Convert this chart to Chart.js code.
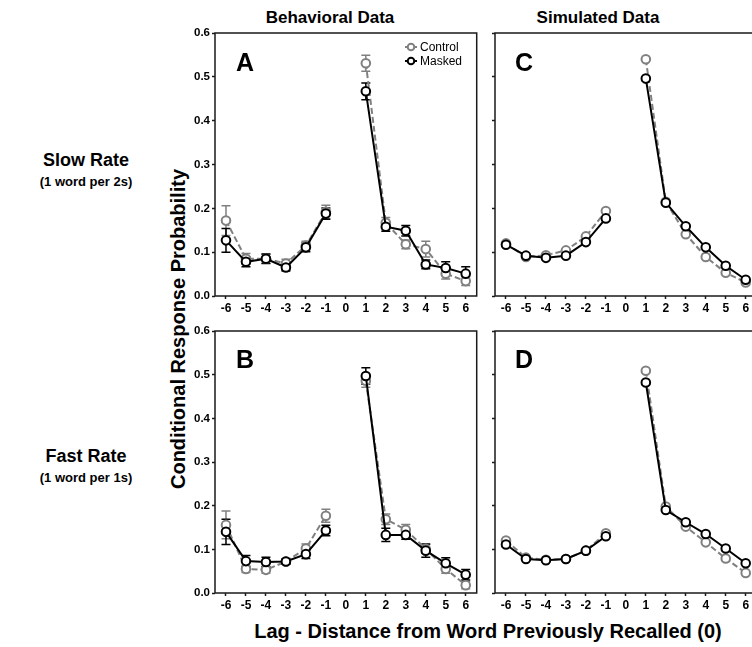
<!DOCTYPE html>
<html>
<head>
<meta charset="utf-8">
<script src="https://cdn.jsdelivr.net/npm/chart.js@4.4.1/dist/chart.umd.min.js"></script>
<style>
  html, body { margin: 0; padding: 0; background: #fff; overflow: hidden; }
  body { width: 752px; height: 647px; position: relative; font-family: "Liberation Sans", Arial, sans-serif; color: #000; }
  .box { position: absolute; }
  .txt { position: absolute; white-space: nowrap; font-weight: bold; transform: translate(-50%, -50%); }
  .letter { position: absolute; font-weight: bold; font-size: 25px; line-height: 1; }
</style>
</head>
<body>
<div class="txt" style="left:330px;top:18px;font-size:17px;">Behavioral Data</div>
<div class="txt" style="left:598px;top:18px;font-size:17px;">Simulated Data</div>
<div class="txt" style="left:86px;top:160px;font-size:18px;">Slow Rate</div>
<div class="txt" style="left:86px;top:181px;font-size:13px;">(1 word per 2s)</div>
<div class="txt" style="left:86px;top:456px;font-size:18px;">Fast Rate</div>
<div class="txt" style="left:86px;top:477px;font-size:13px;">(1 word per 1s)</div>
<div class="txt" style="left:178px;top:329px;font-size:20px;transform:translate(-50%,-50%) rotate(-90deg);">Conditional Response Probability</div>
<div class="txt" style="left:488px;top:631px;font-size:20px;">Lag - Distance from Word Previously Recalled (0)</div>

<div class="box" id="wrapA"><canvas id="chartA"></canvas></div>
<div class="box" id="wrapB"><canvas id="chartB"></canvas></div>
<div class="box" id="wrapC"><canvas id="chartC"></canvas></div>
<div class="box" id="wrapD"><canvas id="chartD"></canvas></div>

<div class="letter" style="left:236px;top:50px;">A</div>
<div class="letter" style="left:236px;top:347px;">B</div>
<div class="letter" style="left:515px;top:50px;">C</div>
<div class="letter" style="left:515px;top:347px;">D</div>

<script>
// lags (x) and y tick labels
const lags = [-6, -5, -4, -3, -2, -1, 0, 1, 2, 3, 4, 5, 6];
const yTicks = [0, 0.1, 0.2, 0.3, 0.4, 0.5, 0.6];

// Behavioral, slow rate (A)
const aControl = [0.172, 0.085, 0.085, 0.074, 0.115, 0.192, null, 0.531, 0.167, 0.118, 0.107, 0.051, 0.034];
const aControlErr = [0.034, 0.012, 0.010, 0.010, 0.010, 0.015, null, 0.018, 0.012, 0.010, 0.018, 0.012, 0.010];
const aMasked = [0.127, 0.078, 0.085, 0.065, 0.111, 0.188, null, 0.467, 0.158, 0.149, 0.072, 0.064, 0.051];
const aMaskedErr = [0.027, 0.011, 0.011, 0.008, 0.010, 0.013, null, 0.019, 0.010, 0.012, 0.010, 0.014, 0.016];

// Behavioral, fast rate (B)
const bControl = [0.156, 0.055, 0.053, 0.072, 0.102, 0.177, null, 0.486, 0.169, 0.145, 0.101, 0.055, 0.018];
const bControlErr = [0.032, 0.008, 0.008, 0.006, 0.010, 0.015, null, 0.015, 0.012, 0.012, 0.010, 0.010, 0.008];
const bMasked = [0.140, 0.073, 0.071, 0.072, 0.089, 0.143, null, 0.497, 0.133, 0.133, 0.097, 0.068, 0.042];
const bMaskedErr = [0.029, 0.013, 0.011, 0.006, 0.010, 0.012, null, 0.019, 0.015, 0.010, 0.015, 0.013, 0.012];

// Simulated, slow rate (C)
const cControl = [0.120, 0.089, 0.093, 0.104, 0.136, 0.194, null, 0.540, 0.215, 0.141, 0.089, 0.053, 0.031];
const cMasked = [0.117, 0.092, 0.087, 0.092, 0.123, 0.177, null, 0.496, 0.213, 0.159, 0.111, 0.069, 0.037];

// Simulated, fast rate (D)
const dControl = [0.120, 0.081, 0.076, 0.078, 0.097, 0.137, null, 0.509, 0.198, 0.152, 0.116, 0.079, 0.046];
const dMasked = [0.111, 0.078, 0.075, 0.078, 0.097, 0.130, null, 0.482, 0.190, 0.162, 0.135, 0.102, 0.068];

const FONT = '"Liberation Sans", Arial, sans-serif';
const GRAY = '#808080';
const BLACK = '#000000';

// frame round the plot area
const framePlugin = {
  id: 'frame',
  beforeDatasetsDraw(chart) {
    const a = chart.chartArea, ctx = chart.ctx;
    ctx.save();
    ctx.strokeStyle = '#1a1a1a';
    ctx.lineWidth = 1.5;
    ctx.strokeRect(a.left, a.top, a.right - a.left, a.bottom - a.top);
    ctx.restore();
  }
};

// error bars, drawn under the points
const errorBars = {
  id: 'errorBars',
  beforeDatasetsDraw(chart) {
    const ctx = chart.ctx, xs = chart.scales.x, ys = chart.scales.y;
    chart.data.datasets.forEach(ds => {
      if (!ds.errors) return;
      ctx.save();
      ctx.strokeStyle = ds.borderColor;
      ctx.lineWidth = 1.5;
      ds.data.forEach((p, i) => {
        const e = ds.errors[i];
        if (p.y == null || e == null) return;
        const x = xs.getPixelForValue(p.x);
        const y1 = ys.getPixelForValue(p.y + e);
        const y2 = ys.getPixelForValue(p.y - e);
        ctx.beginPath();
        ctx.moveTo(x, y1); ctx.lineTo(x, y2);
        ctx.moveTo(x - 4.5, y1); ctx.lineTo(x + 4.5, y1);
        ctx.moveTo(x - 4.5, y2); ctx.lineTo(x + 4.5, y2);
        ctx.stroke();
      });
      ctx.restore();
    });
  }
};

// small legend inside panel A
const insideLegend = {
  id: 'insideLegend',
  afterDraw(chart, args, opts) {
    if (!opts.show) return;
    const ctx = chart.ctx, a = chart.chartArea;
    const items = [['Control', GRAY], ['Masked', BLACK]];
    ctx.save();
    items.forEach((it, k) => {
      const cx = a.left + 196, cy = a.top + 14 + k * 14;
      ctx.strokeStyle = it[1];
      ctx.lineWidth = 2;
      ctx.beginPath(); ctx.moveTo(cx - 6, cy); ctx.lineTo(cx + 6, cy); ctx.stroke();
      ctx.fillStyle = '#fff';
      ctx.beginPath(); ctx.arc(cx, cy, 3.3, 0, Math.PI * 2); ctx.fill(); ctx.stroke();
      ctx.fillStyle = '#000';
      ctx.font = '12px ' + FONT;
      ctx.textBaseline = 'middle';
      ctx.fillText(it[0], cx + 9, cy + 0.5);
    });
    ctx.restore();
  }
};

function pts(vals) {
  return lags.map((x, i) => ({ x: x, y: vals[i] }));
}

function series(label, vals, color, dash, errs, order) {
  return {
    label: label,
    data: pts(vals),
    errors: errs,
    borderColor: color,
    borderWidth: 2,
    borderDash: dash,
    pointRadius: 4.3,
    pointBorderWidth: 2,
    pointBackgroundColor: '#fff',
    pointBorderColor: color,
    spanGaps: false,
    tension: 0,
    order: order
  };
}

// plot area: left edge, top edge, width, height in page pixels
function makeChart(id, left, top, w, h, control, masked, cErr, mErr, yLabels, legend) {
  const padL = 40, padT = 15, padR = 5, padB = 25;
  const wrap = document.getElementById('wrap' + id);
  wrap.style.left = (left - padL) + 'px';
  wrap.style.top = (top - padT) + 'px';
  const cw = w + padL + padR, chh = h + padT + padB;
  wrap.style.width = cw + 'px';
  wrap.style.height = chh + 'px';
  const cv = document.getElementById('chart' + id);
  cv.width = cw; cv.height = chh;
  cv.style.width = cw + 'px'; cv.style.height = chh + 'px';

  return new Chart(cv.getContext('2d'), {
    type: 'line',
    data: {
      datasets: [
        series('Control', control, GRAY, [6, 3], cErr, 1),
        series('Masked', masked, BLACK, [], mErr, 0)
      ]
    },
    options: {
      responsive: false,
      animation: false,
      devicePixelRatio: 1,
      layout: { padding: { top: padT, right: padR, bottom: 0, left: 0 } },
      plugins: {
        legend: { display: false },
        tooltip: { enabled: false },
        insideLegend: { show: legend }
      },
      scales: {
        x: {
          type: 'linear',
          min: -6.55,
          max: 6.55,
          afterBuildTicks: s => { s.ticks = lags.map(v => ({ value: v })); },
          afterFit: s => { s.height = padB; },
          grid: { display: true, drawOnChartArea: false, drawTicks: true, tickLength: 3, tickColor: '#1a1a1a', tickWidth: 1.5 },
          border: { display: false },
          ticks: { color: '#000', padding: 2, maxRotation: 0, autoSkip: false, font: { family: FONT, size: 12, weight: 'bold' } }
        },
        y: {
          min: 0,
          max: 0.6,
          afterBuildTicks: s => { s.ticks = yTicks.map(v => ({ value: v })); },
          afterFit: s => { s.width = padL; },
          grid: { display: true, drawOnChartArea: false, drawTicks: true, tickLength: 3, tickColor: '#1a1a1a', tickWidth: 1.5 },
          border: { display: false },
          ticks: {
            color: '#000', padding: 2, autoSkip: false,
            font: { family: FONT, size: 11.5, weight: 'bold' },
            callback: v => yLabels ? Number(v).toFixed(1) : ''
          }
        }
      }
    },
    plugins: [framePlugin, errorBars, insideLegend]
  });
}

makeChart('A', 215, 33, 263, 263, aControl, aMasked, aControlErr, aMaskedErr, true, true);
makeChart('B', 215, 331, 263, 262, bControl, bMasked, bControlErr, bMaskedErr, true, false);
makeChart('C', 495, 33, 263, 263, cControl, cMasked, null, null, false, false);
makeChart('D', 495, 331, 263, 262, dControl, dMasked, null, null, false, false);
</script>
</body>
</html>
